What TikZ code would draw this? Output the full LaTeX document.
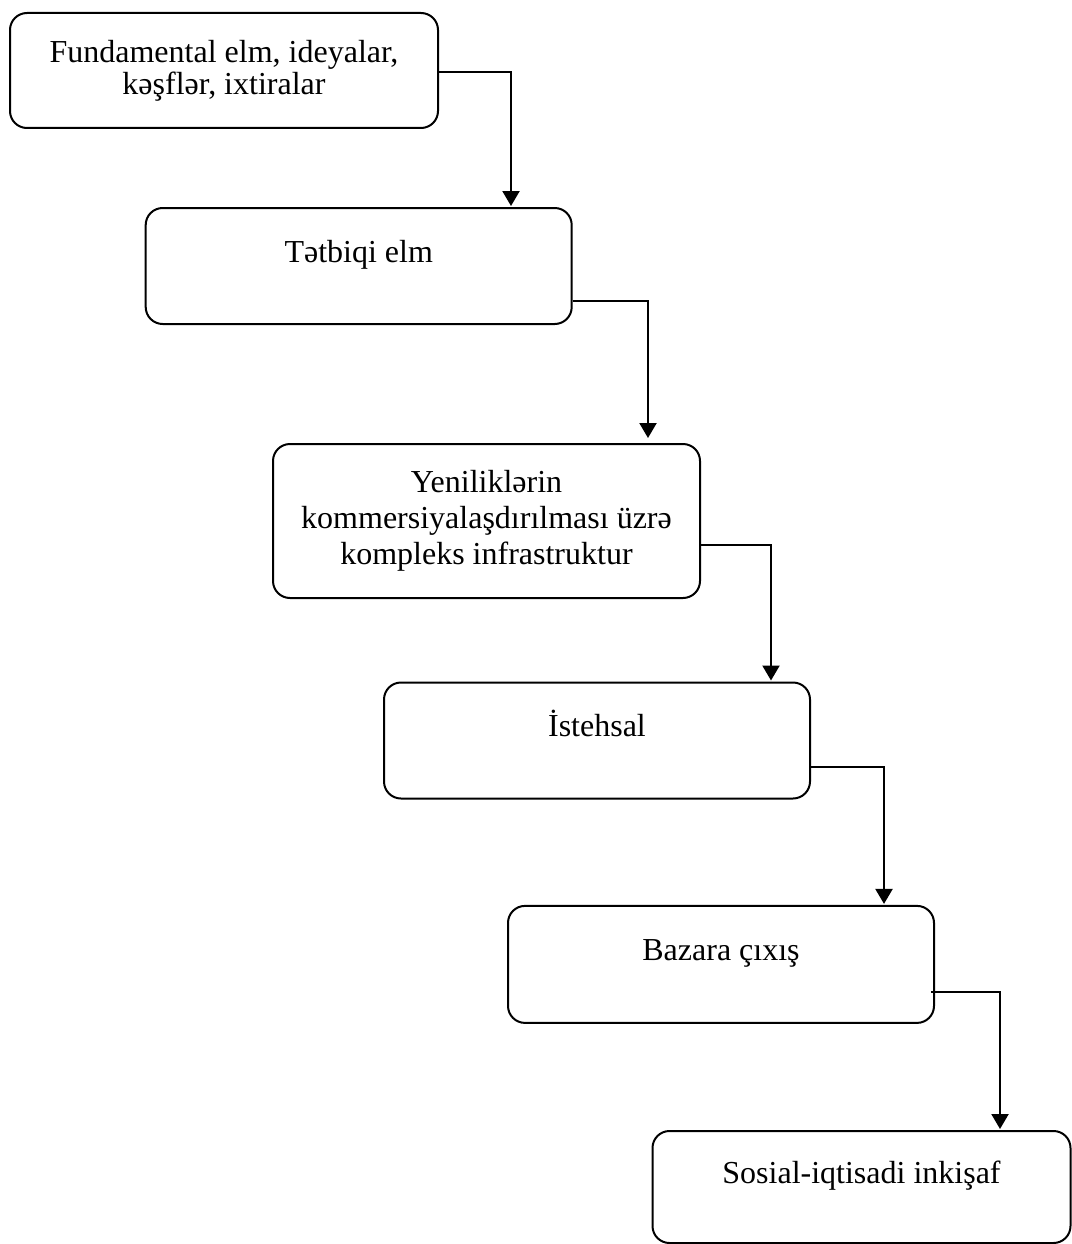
\documentclass[tikz,border=0pt]{standalone}
\usepackage{fontspec}
\setmainfont{Liberation Serif}
\usetikzlibrary{arrows.meta}

\begin{document}
\begin{tikzpicture}[x=1pt, y=-1pt,
    box/.style={draw, line width=2pt, rounded corners=17pt, inner sep=0pt,
        minimum width=426pt, minimum height=116pt, align=center,
        font=\fontsize{32}{36}\selectfont},
    oneline/.style={text height=22pt, text depth=30pt},
    link/.style={line width=2.2pt, shorten >=1pt, -{Triangle[length=15pt,width=17pt]}}]
    \useasboundingbox (0,0) rectangle (1071,1244);

    % boxes
    \node[box, minimum width=428pt, minimum height=115pt, font=\fontsize{32}{32}\selectfont] at (224,70.5) (fund) {Fundamental elm, ideyalar,\\kəşflər, ixtiralar};
    \node[box, oneline] at (358.7,266) (tetbiq) {Tətbiqi elm};
    \node[box, minimum width=427pt, minimum height=154pt] at (486.5,521) (yenilik) {Yeniliklərin\\kommersiyalaşdırılması üzrə\\kompleks infrastruktur};
    \node[box, oneline] at (597,740.5) (istehsal) {İstehsal};
    \node[box, oneline, minimum height=117pt] at (721,964.4) (bazar) {Bazara çıxış};
    \node[box, oneline, minimum width=418pt, minimum height=112pt] at (861.5,1187) (sosial) {Sosial-iqtisadi inkişaf};

    % connectors
    \coordinate (k1) at (511,71.7);
    \coordinate (k2) at (648,301);
    \coordinate (k3) at (771,545);
    \coordinate (k4) at (884,766.7);
    \coordinate (k5) at (1000,991.7);
    \draw[link] (fund.east |- k1) -- (k1) -- (k1 |- tetbiq.north);
    \draw[link, shorten >=5pt] (tetbiq.east |- k2) -- (k2) -- (k2 |- yenilik.north);
    \draw[link] (yenilik.east |- k3) -- (k3) -- (k3 |- istehsal.north);
    \draw[link] (istehsal.east |- k4) -- (k4) -- (k4 |- bazar.north);
    \draw[link] ([xshift=-4pt]bazar.east |- k5) -- (k5) -- (k5 |- sosial.north);
\end{tikzpicture}
\end{document}
